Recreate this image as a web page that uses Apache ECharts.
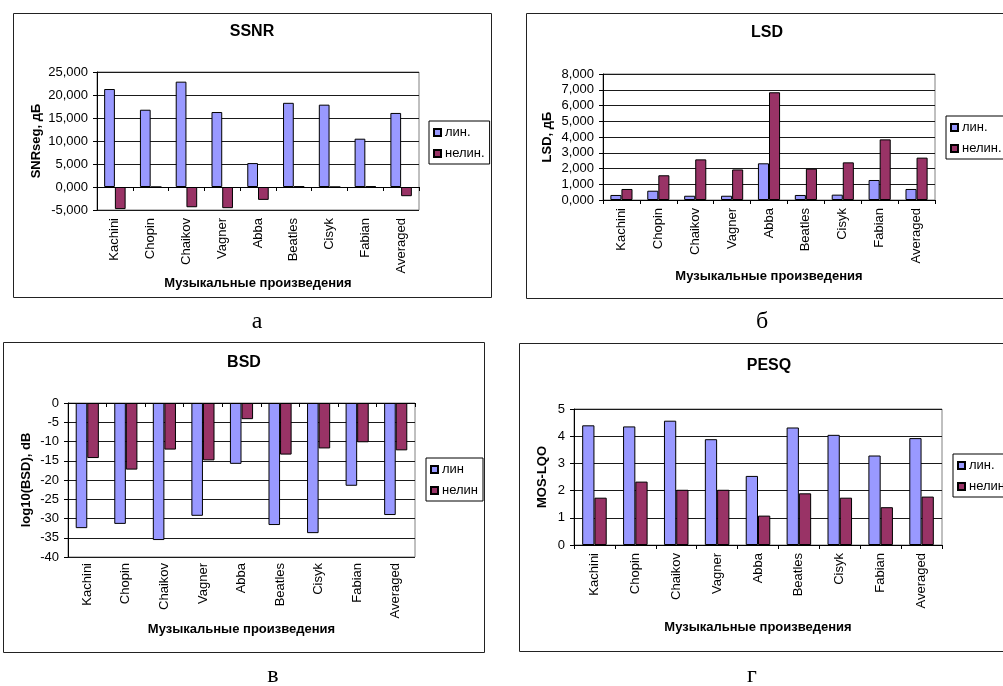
<!DOCTYPE html>
<html>
<head>
<meta charset="utf-8">
<script src="https://cdn.jsdelivr.net/npm/echarts@6/dist/echarts.min.js"></script>
<style>
  html, body { margin: 0; padding: 0; background: #fff; overflow: hidden; }
  #chart { width: 1003px; height: 686px; }
</style>
</head>
<body>
<div id="chart"></div>
<script>
// Music pieces compared in all four panels
const categories = ['Kachini', 'Chopin', 'Chaikov', 'Vagner', 'Abba', 'Beatles', 'Cisyk', 'Fabian', 'Averaged'];

// а) segmental SNR, dB
const ssnrLin    = [21.3, 16.8, 22.9, 16.3, 5.2, 18.3, 17.9, 10.5, 16.1];
const ssnrNonlin = [-4.8, 0.0, -4.4, -4.6, -2.8, 0.15, 0.0, 0.15, -2.0];
// б) log-spectral distance, dB
const lsdLin    = [0.32, 0.59, 0.27, 0.27, 2.33, 0.32, 0.34, 1.27, 0.70];
const lsdNonlin = [0.70, 1.57, 2.58, 1.94, 6.84, 1.99, 2.39, 3.85, 2.69];
// в) Bark spectral distortion, log10, dB
const bsdLin    = [-32.5, -31.4, -35.6, -29.3, -15.8, -31.7, -33.8, -21.5, -29.1];
const bsdNonlin = [-14.3, -17.3, -12.1, -14.9, -4.2, -13.4, -11.8, -10.2, -12.3];
// г) PESQ, MOS-LQO
const pesqLin    = [4.40, 4.36, 4.57, 3.89, 2.54, 4.32, 4.05, 3.29, 3.93];
const pesqNonlin = [1.74, 2.33, 2.03, 2.03, 1.08, 1.90, 1.74, 1.39, 1.78];

// value-axis ticks: [min, max, step]
const ssnrTicks = [-5, 25, 5];
const lsdTicks  = [0, 8, 1];
const bsdTicks  = [-40, 0, 5];
const pesqTicks = [0, 5, 1];

const seriesNamesDot = ['лин.', 'нелин.'];
const seriesNamesBsd = ['лин', 'нелин'];
const xAxisTitle = 'Музыкальные произведения';

const SANS = '"Liberation Sans", Arial, sans-serif';
const SERIF = '"Liberation Serif", "Times New Roman", serif';
const LIN_COLOR = '#9999FF';
const NONLIN_COLOR = '#993366';

const comma3 = v => v.toFixed(3).replace('.', ',');
const plain = v => String(v);

const panels = [
  { title: 'SSNR', tx: 252, ty: 24, grid: { left: 97, top: 72, width: 322, height: 138 },
    ticks: ssnrTicks, fmt: comma3, yName: 'SNRseg, дБ', yGap: 54, xGap: 60, labelMargin: 8,
    zeroAxis: true, lin: ssnrLin, nonlin: ssnrNonlin, names: seriesNamesDot,
    legend: { left: 429, top: 121 }, frame: [13, 13, 478, 284] },
  { title: 'LSD', tx: 767, ty: 25, grid: { left: 603, top: 74, width: 332, height: 126 },
    ticks: lsdTicks, fmt: comma3, yName: 'LSD, дБ', yGap: 49, xGap: 70, labelMargin: 8,
    zeroAxis: false, lin: lsdLin, nonlin: lsdNonlin, names: seriesNamesDot,
    legend: { left: 946, top: 116 }, frame: [526, 13, 520, 285] },
  { title: 'BSD', tx: 244, ty: 355, grid: { left: 68, top: 403, width: 347, height: 154 },
    ticks: bsdTicks, fmt: plain, yName: 'log10(BSD), dB', yGap: 35, xGap: 66, labelMargin: 6,
    zeroAxis: true, lin: bsdLin, nonlin: bsdNonlin, names: seriesNamesBsd,
    legend: { left: 426, top: 458 }, frame: [3, 342, 481, 310] },
  { title: 'PESQ', tx: 769, ty: 358, grid: { left: 574, top: 409, width: 368, height: 136 },
    ticks: pesqTicks, fmt: plain, yName: 'MOS-LQO', yGap: 25, xGap: 76, labelMargin: 8,
    zeroAxis: false, lin: pesqLin, nonlin: pesqNonlin, names: seriesNamesDot,
    legend: { left: 953, top: 454 }, frame: [519, 343, 520, 308] }
];

const captions = [
  { text: 'а', x: 257, y: 322 },
  { text: 'б', x: 762, y: 322 },
  { text: 'в', x: 273, y: 676 },
  { text: 'г', x: 752, y: 676 }
];

const grids = [], xAxes = [], yAxes = [], series = [], titles = [], legends = [], graphics = [];

panels.forEach((p, k) => {
  grids.push(Object.assign({ show: true, borderColor: '#808080', borderWidth: 1,
    backgroundColor: 'transparent', containLabel: false }, p.grid));

  titles.push({ text: p.title, left: p.tx, top: p.ty, textAlign: 'center', padding: 0,
    textStyle: { fontFamily: SANS, fontSize: 16, fontWeight: 'bold', color: '#000' } });

  // category axis carrying the rotated labels along the bottom of the plot
  const labelAxisIndex = xAxes.length;
  xAxes.push({
    type: 'category', gridIndex: k, data: categories, position: 'bottom',
    axisLine: { show: !p.zeroAxis, onZero: false, lineStyle: { color: '#000', width: 1 } },
    axisTick: { show: !p.zeroAxis, length: 4, interval: 0, lineStyle: { color: '#000' } },
    axisLabel: { rotate: 90, interval: 0, margin: p.labelMargin, fontFamily: SANS, fontSize: 13, color: '#000' },
    splitLine: { show: false },
    name: xAxisTitle, nameLocation: 'middle', nameGap: p.xGap,
    nameTextStyle: { fontFamily: SANS, fontSize: 13, fontWeight: 'bold', color: '#000' }
  });
  // category line drawn through zero when the values change sign
  if (p.zeroAxis) {
    xAxes.push({
      type: 'category', gridIndex: k, data: categories, position: 'bottom',
      axisLine: { show: true, onZero: true, lineStyle: { color: '#000', width: 1 } },
      axisTick: { show: true, length: 4, interval: 0, lineStyle: { color: '#000' } },
      axisLabel: { show: false }, splitLine: { show: false }
    });
  }

  yAxes.push({
    type: 'value', gridIndex: k, min: p.ticks[0], max: p.ticks[1], interval: p.ticks[2],
    axisLine: { show: true, lineStyle: { color: '#000', width: 1 } },
    axisTick: { show: true, length: 4, lineStyle: { color: '#000' } },
    axisLabel: { formatter: p.fmt, margin: 9, fontFamily: SANS, fontSize: 13, color: '#000' },
    splitLine: { show: true, lineStyle: { color: '#1a1a1a', width: 1 } },
    name: p.yName, nameLocation: 'middle', nameGap: p.yGap,
    nameTextStyle: { fontFamily: SANS, fontSize: 13, fontWeight: 'bold', color: '#000' }
  });

  const barBase = { type: 'bar', xAxisIndex: labelAxisIndex, yAxisIndex: k,
    barGap: '0%', barCategoryGap: '40%', emphasis: { disabled: true } };
  series.push(Object.assign({}, barBase, { name: p.names[0], data: p.lin,
    itemStyle: { color: LIN_COLOR, borderColor: '#000', borderWidth: 1 } }));
  series.push(Object.assign({}, barBase, { name: p.names[1], data: p.nonlin,
    itemStyle: { color: NONLIN_COLOR, borderColor: '#000', borderWidth: 1 } }));

  legends.push({
    data: p.names, orient: 'vertical', left: p.legend.left, top: p.legend.top,
    icon: 'rect', itemWidth: 7, itemHeight: 7, itemGap: 8, padding: [5, 5, 4, 4],
    borderColor: '#000', borderWidth: 1, backgroundColor: '#fff', selectedMode: false,
    textStyle: { fontFamily: SANS, fontSize: 13, color: '#000', padding: [0, 0, 0, -1] }
  });

  const f = p.frame;
  graphics.push({ type: 'rect', z: -1, silent: true,
    shape: { x: f[0] + 0.5, y: f[1] + 0.5, width: f[2], height: f[3] },
    style: { fill: 'none', stroke: '#222', lineWidth: 1 } });
});

captions.forEach(c => {
  graphics.push({ type: 'text', silent: true, x: c.x, y: c.y,
    style: { text: c.text, font: '24px ' + SERIF, fill: '#000', align: 'center', verticalAlign: 'middle' } });
});

const chart = echarts.init(document.getElementById('chart'), null, { renderer: 'canvas' });
chart.setOption({
  animation: false,
  backgroundColor: '#fff',
  title: titles,
  legend: legends,
  grid: grids,
  xAxis: xAxes,
  yAxis: yAxes,
  series: series,
  graphic: graphics
});
</script>
</body>
</html>
